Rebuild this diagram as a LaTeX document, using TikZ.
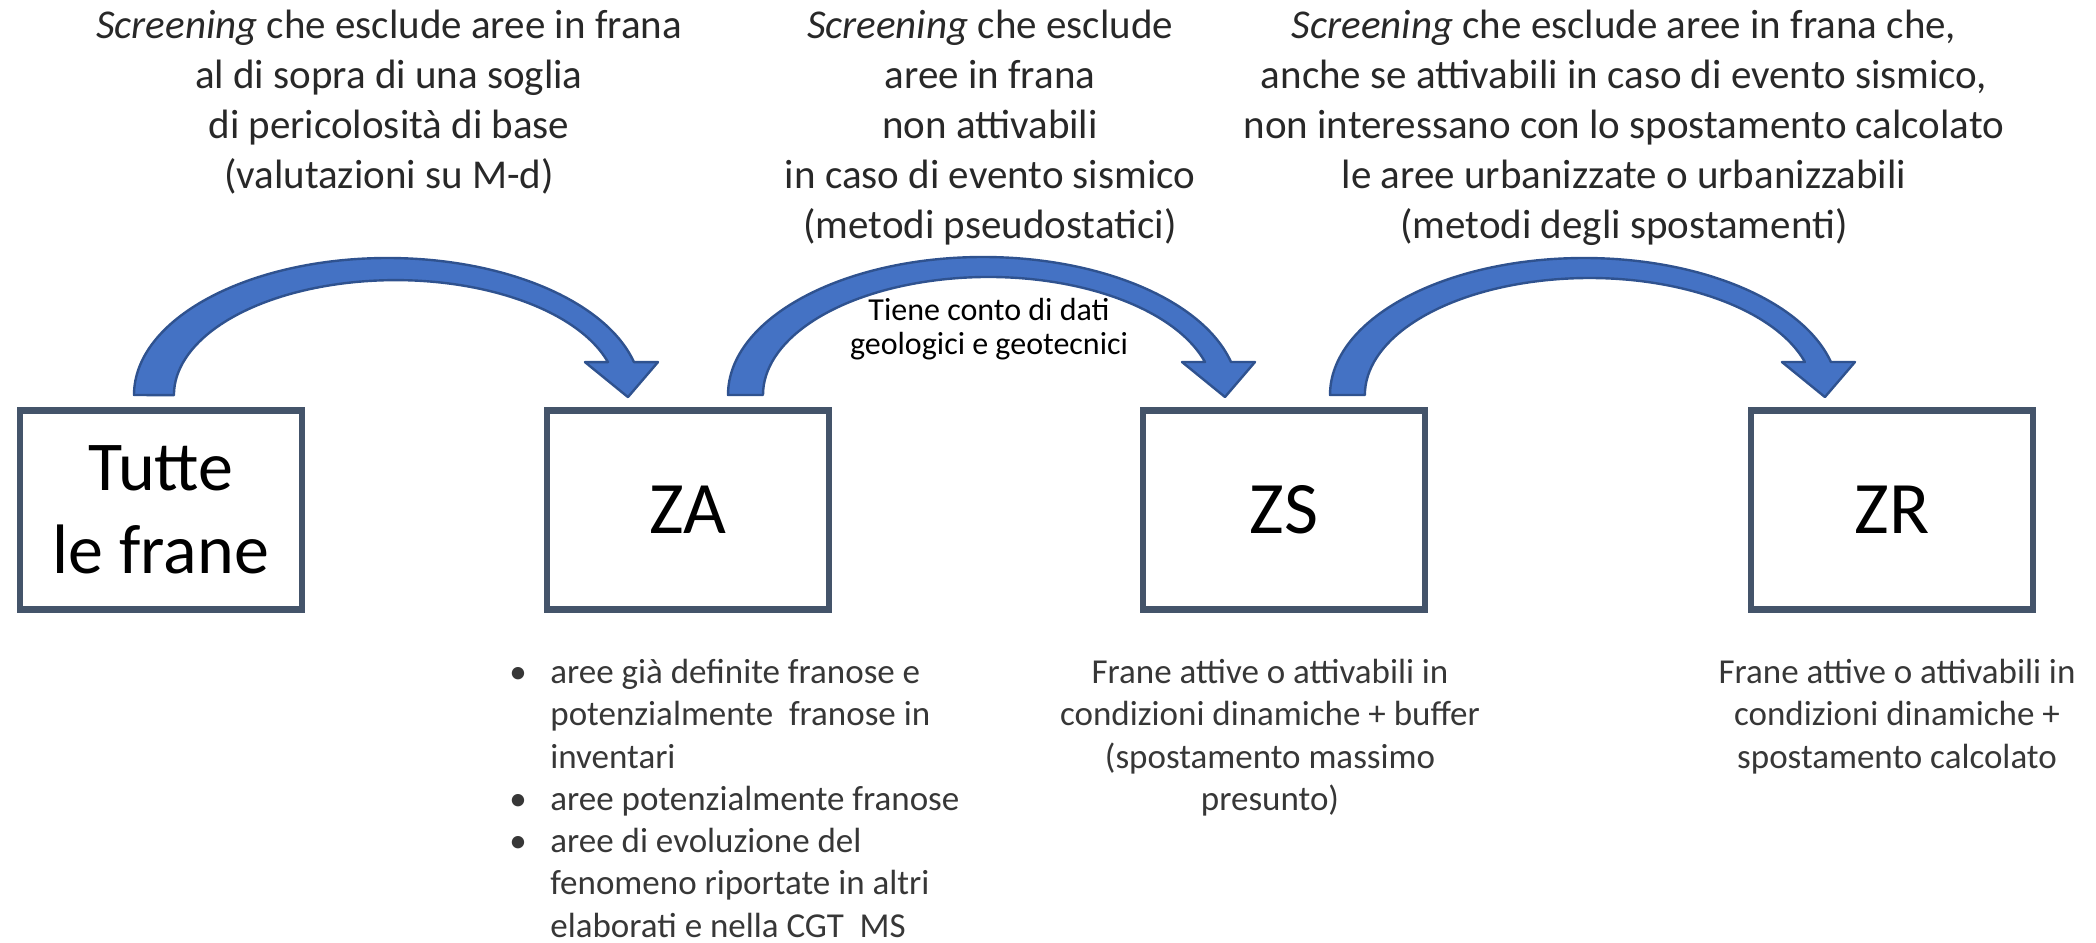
\documentclass[tikz,border=0pt]{standalone}
\usepackage{fontspec}
\setmainfont{Carlito}
\usetikzlibrary{calc}
\definecolor{arrowblue}{RGB}{68,114,196}
\definecolor{arrowedge}{RGB}{47,82,143}
\definecolor{boxedge}{RGB}{68,84,106}
\definecolor{headtext}{RGB}{40,40,40}
\definecolor{notetext}{RGB}{55,55,55}
\begin{document}
\begin{tikzpicture}[x=0.5pt,y=0.5pt,
  zbox/.style={draw=boxedge, line width=3.3pt, fill=white, minimum width=141pt,
    minimum height=99.5pt, inner sep=0pt, outer sep=0pt, align=center,
    font=\fontsize{37}{44}\selectfont},
  headtxt/.style={anchor=north, inner sep=0pt, align=center, text=headtext,
    font=\fontsize{20.5}{25}\selectfont},
  notetxt/.style={anchor=north, inner sep=0pt, align=center, text=notetext,
    font=\fontsize{17.5}{21.15}\selectfont},
  listtxt/.style={anchor=north west, inner sep=0pt, align=left, text=notetext,
    font=\fontsize{17.5}{21.15}\selectfont},
  curvearrow/.style={fill=arrowblue, draw=arrowedge, line width=1.2pt, line join=round}]
\useasboundingbox (0,0) rectangle (2096,-942);

% boxes
\node[zbox, font=\fontsize{35}{41.5}\selectfont] (tutte) at (161,-510) {Tutte\\le frane};
\node[zbox] (za) at (688,-510) {ZA};
\node[zbox] (zs) at (1284,-510) {ZS};
\node[zbox] (zr) at (1892,-510) {ZR};

% arrow start points
\coordinate (a1s) at ([shift={(-27,15.5)}]tutte.north);
\coordinate (a2s) at ([shift={(40,15.5)}]za.north);
\coordinate (a3s) at ([shift={(46,15.5)}]zs.north);

% curved block arrows
\path[curvearrow] (a1s) arc[start angle=180, end angle=13.9, x radius=253.7, y radius=137]
  -- ++(24,0) -- ++(-30,-35) -- ++(-43,35) -- ++(23,0)
  arc[start angle=16.7, end angle=180, x radius=221.7, y radius=115] -- cycle;
\path[curvearrow] (a2s) arc[start angle=180, end angle=13.84, x radius=255.2, y radius=138]
  -- ++(24,0) -- ++(-30,-35) -- ++(-43,35) -- ++(23,0)
  arc[start angle=16.24, end angle=180, x radius=225.5, y radius=118] -- cycle;
\path[curvearrow] (a3s) arc[start angle=180, end angle=13.93, x radius=254.2, y radius=137]
  -- ++(24,0) -- ++(-30,-35) -- ++(-43,35) -- ++(23,0)
  arc[start angle=16.38, end angle=180, x radius=224.6, y radius=117] -- cycle;

% header texts
\node[headtxt] (h1) at (389,-5.2) {\rule{0pt}{0.8em}\textit{Screening} che esclude aree in frana\\al di sopra di una soglia\\di pericolosità di base\\(valutazioni su M-d)};
\node[headtxt] (h2) at (990,-5.2) {\rule{0pt}{0.8em}\textit{Screening} che esclude\\aree in frana\\non attivabili\\in caso di evento sismico\\(metodi pseudostatici)};
\node[headtxt] (h3) at (1624,-5.2) {\rule{0pt}{0.8em}\textit{Screening} che esclude aree in frana che,\\anche se attivabili in caso di evento sismico,\\non interessano con lo spostamento calcolato\\le aree urbanizzate o urbanizzabili\\(metodi degli spostamenti)};

% label on arrow 2
\node[anchor=north, inner sep=0pt, align=center, font=\fontsize{16}{17}\selectfont] (tiene) at (989,-294.4) {\rule{0pt}{0.8em}Tiene conto di dati\\geologici e geotecnici};

% notes under boxes
\node[listtxt] (zanote) at (509,-655) {\rule{0pt}{0.8em}\makebox[20.5pt][l]{\textbullet}aree già definite franose e\\
\hspace*{20.5pt}potenzialmente\ \ franose in\\
\hspace*{20.5pt}inventari\\
\makebox[20.5pt][l]{\textbullet}aree potenzialmente franose\\
\makebox[20.5pt][l]{\textbullet}aree di evoluzione del\\
\hspace*{20.5pt}fenomeno riportate in altri\\
\hspace*{20.5pt}elaborati e nella CGT\ \ MS};
\node[notetxt] (zsnote) at (1270,-655) {\rule{0pt}{0.8em}Frane attive o attivabili in\\condizioni dinamiche + buffer\\(spostamento massimo\\presunto)};
\node[notetxt] (zrnote) at (1897,-655) {\rule{0pt}{0.8em}Frane attive o attivabili in\\condizioni dinamiche +\\spostamento calcolato};
\end{tikzpicture}
\end{document}
